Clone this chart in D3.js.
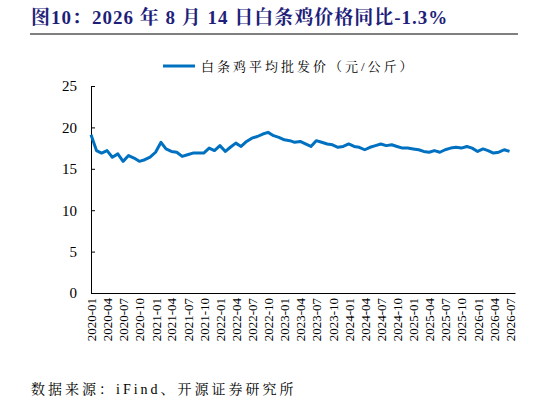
<!DOCTYPE html>
<html>
<head>
<meta charset="utf-8">
<style>body{margin:0;background:#fff}</style>
</head>
<body>
<svg id="chart"></svg>
<script src="https://cdn.jsdelivr.net/npm/d3@7"></script>
<script>
const startMonth = '2020-01';
const prices = [19.1, 17.2, 16.9, 17.2, 16.4, 16.8, 15.9, 16.6, 16.3, 15.9, 16.1, 16.4,
  17.0, 18.2, 17.4, 17.1, 17.0, 16.5, 16.7, 16.9, 16.9, 16.9, 17.5, 17.2,
  17.8, 17.1, 17.6, 18.1, 17.7, 18.3, 18.7, 18.9, 19.2, 19.4, 19.0, 18.8,
  18.5, 18.4, 18.2, 18.3, 18.0, 17.7, 18.4, 18.2, 18.0, 17.9, 17.6, 17.7,
  18.0, 17.7, 17.6, 17.3, 17.6, 17.8, 18.0, 17.8, 17.9, 17.7, 17.5, 17.5,
  17.4, 17.3, 17.1, 17.0, 17.2, 17.0, 17.3, 17.5, 17.6, 17.5, 17.7, 17.5,
  17.1, 17.4, 17.2, 16.9, 17.0, 17.3, 17.1];
const yTicks = [0, 5, 10, 15, 20, 25];
const seriesName = '白条鸡平均批发价（元/公斤）';
const title = '图10：2026 年 8 月 14 日白条鸡价格同比-1.3%';
const source = '数据来源：iFind、开源证券研究所';

const [width, height] = [546, 408];
const svg = d3.select('#chart').attr('width', width).attr('height', height);
const serif = '"Liberation Serif","Noto Serif CJK SC","Noto Sans CJK SC",serif';

const t0 = d3.timeParse('%Y-%m')(startMonth);
const data = prices.map((v, i) => ({ date: d3.timeMonth.offset(t0, i), v }));

const x = d3.scaleTime()
  .domain([t0, d3.timeMonth.offset(t0, prices.length)])
  .range([91, 515]);
const y = d3.scaleLinear().domain([0, 25]).range([293, 86]);

// 标题
svg.append('text').attr('x', 31).attr('y', 24)
  .attr('font-family', serif).attr('font-weight', 'bold').attr('font-size', 19)
  .attr('letter-spacing', 1).attr('fill', '#1f1f7a').text(title);
svg.append('line').attr('x1', 30).attr('x2', 518).attr('y1', 34).attr('y2', 34)
  .attr('stroke', '#000').attr('stroke-width', 1);

// 图例
svg.append('line').attr('x1', 163).attr('x2', 195).attr('y1', 66).attr('y2', 66)
  .attr('stroke', '#0070c0').attr('stroke-width', 3);
svg.append('text').attr('x', 201).attr('y', 71)
  .attr('font-family', serif).attr('font-size', 13).attr('letter-spacing', 3)
  .text(seriesName);

// y轴
const yAxis = svg.append('g').attr('transform', 'translate(91,0)')
  .call(d3.axisLeft(y).tickValues(yTicks).tickSize(-4).tickPadding(14));
yAxis.selectAll('text').attr('font-family', serif).attr('font-size', 15).attr('fill', '#000');

// x轴
const xTicks = d3.range(0, prices.length, 3).map(i => d3.timeMonth.offset(t0, i));
const xAxis = svg.append('g').attr('transform', 'translate(0,293)')
  .call(d3.axisBottom(x).tickValues(xTicks).tickSize(0).tickFormat(d3.timeFormat('%Y-%m')));
xAxis.select('.domain').attr('stroke', '#000');
xAxis.selectAll('text')
  .attr('font-family', serif).attr('font-size', 13).attr('fill', '#000')
  .attr('transform', 'rotate(-90)').attr('text-anchor', 'end')
  .attr('x', -5).attr('y', 0).attr('dy', '0.35em');

// 折线
svg.append('path').datum(data)
  .attr('fill', 'none').attr('stroke', '#0070c0').attr('stroke-width', 3)
  .attr('stroke-linejoin', 'round')
  .attr('d', d3.line().x(d => x(d.date)).y(d => y(d.v)));

// 来源
svg.append('text').attr('x', 31).attr('y', 394)
  .attr('font-family', serif).attr('font-size', 14).attr('letter-spacing', 3)
  .text(source);
</script>
</body>
</html>
